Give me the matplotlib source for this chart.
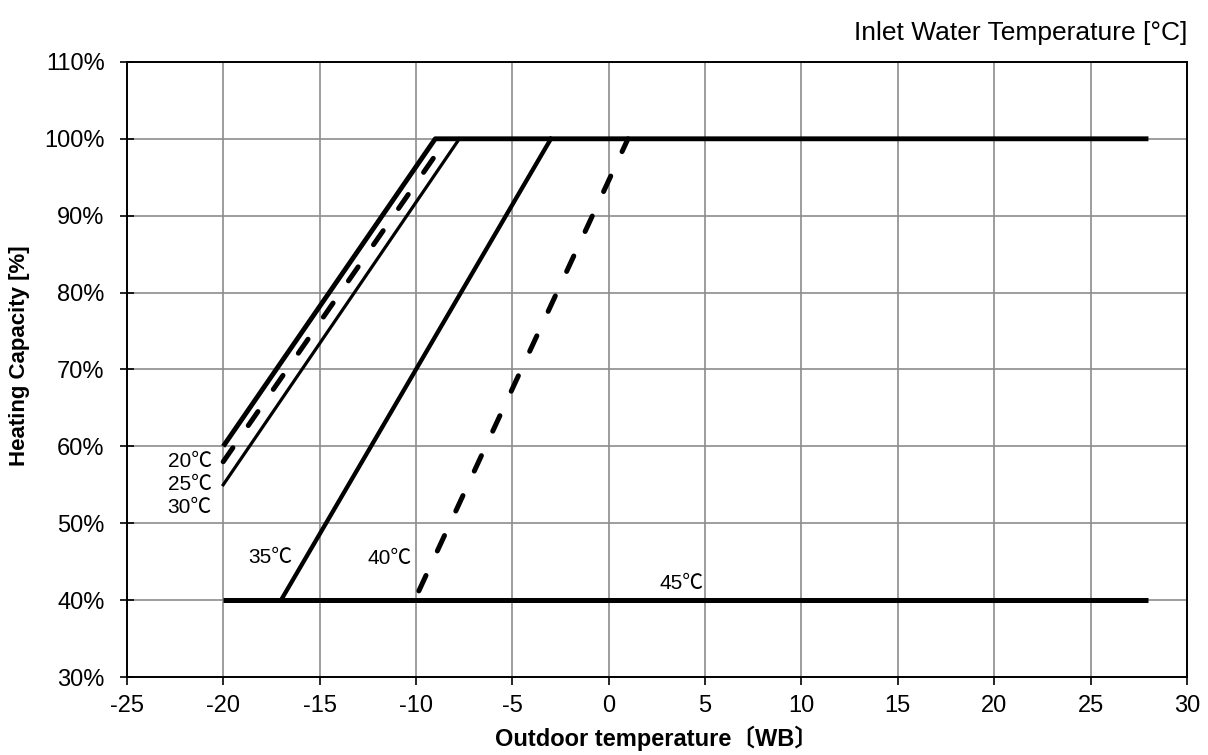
import matplotlib.pyplot as plt
from matplotlib.ticker import FuncFormatter

plt.rcParams['font.family'] = ['Liberation Sans', 'Noto Sans CJK JP', 'DejaVu Sans']
plt.rcParams['axes.unicode_minus'] = False

# Capacity curves per inlet water temperature (outdoor WB temp, capacity %)
x_20 = [-20, -9, 28]
y_20 = [60, 100, 100]
x_25 = [-20, -8.4]
y_25 = [58, 100]
x_30 = [-20, -7.75]
y_30 = [55, 100]
x_35 = [-17, -3]
y_35 = [40, 100]
x_40 = [-9.85, 1]
y_40 = [41.2, 100]
x_45 = [-20, 28]
y_45 = [40, 40]

# curve labels: (text, x, y)
labels = [('20℃', -20.6, 58.0), ('25℃', -20.6, 55.1), ('30℃', -20.6, 52.1),
          ('35℃', -16.4, 45.6), ('40℃', -10.2, 45.4), ('45℃', 4.9, 42.2)]

fig = plt.figure(figsize=(12.08, 7.55), dpi=100)
ax = fig.add_axes([0.105, 0.1033, 0.8776, 0.8147])

dash = (0, (3.4, 5.4))
ax.plot(x_20, y_20, color='black', lw=3.5, solid_capstyle='butt', zorder=3)
ax.plot(x_25, y_25, color='black', lw=3.6, linestyle=dash,
        dash_capstyle='round', zorder=3)
ax.plot(x_30, y_30, color='black', lw=2.3, zorder=3)
ax.plot(x_35, y_35, color='black', lw=3.1, zorder=3)
ax.plot(x_40, y_40, color='black', lw=3.6, linestyle=dash,
        dash_capstyle='round', zorder=3)
ax.plot(x_45, y_45, color='black', lw=3.6, solid_capstyle='butt', zorder=3)

for txt, tx, ty in labels:
    ax.text(tx, ty, txt, ha='right', va='center', fontsize=15)

ax.set_xlim(-25, 30)
ax.set_ylim(30, 110)
ax.set_xticks(range(-25, 31, 5))
ax.set_yticks(range(30, 111, 10))
ax.yaxis.set_major_formatter(FuncFormatter(lambda v, p: '%d%%' % v))
ax.tick_params(axis='both', labelsize=17, color='black')
ax.tick_params(axis='x', direction='out', length=6, width=1.2, pad=7)
ax.tick_params(axis='y', direction='inout', length=10, width=1.2, pad=11)
ax.grid(True, color='#8c8c8c', linewidth=1.2)
ax.set_axisbelow(True)
for s in ax.spines.values():
    s.set_linewidth(1.4)
    s.set_color('black')

ax.set_xlabel('Outdoor temperature〔WB〕', fontsize=17, fontweight='bold', labelpad=6)
ax.set_ylabel('Heating Capacity [%]', fontsize=16, fontweight='bold')
ax.yaxis.set_label_coords(-0.0915, 0.522)
fig.text(0.9826, 0.956, 'Inlet Water Temperature [°C]', ha='right', va='center', fontsize=19)

plt.savefig('out.png', dpi=100)
